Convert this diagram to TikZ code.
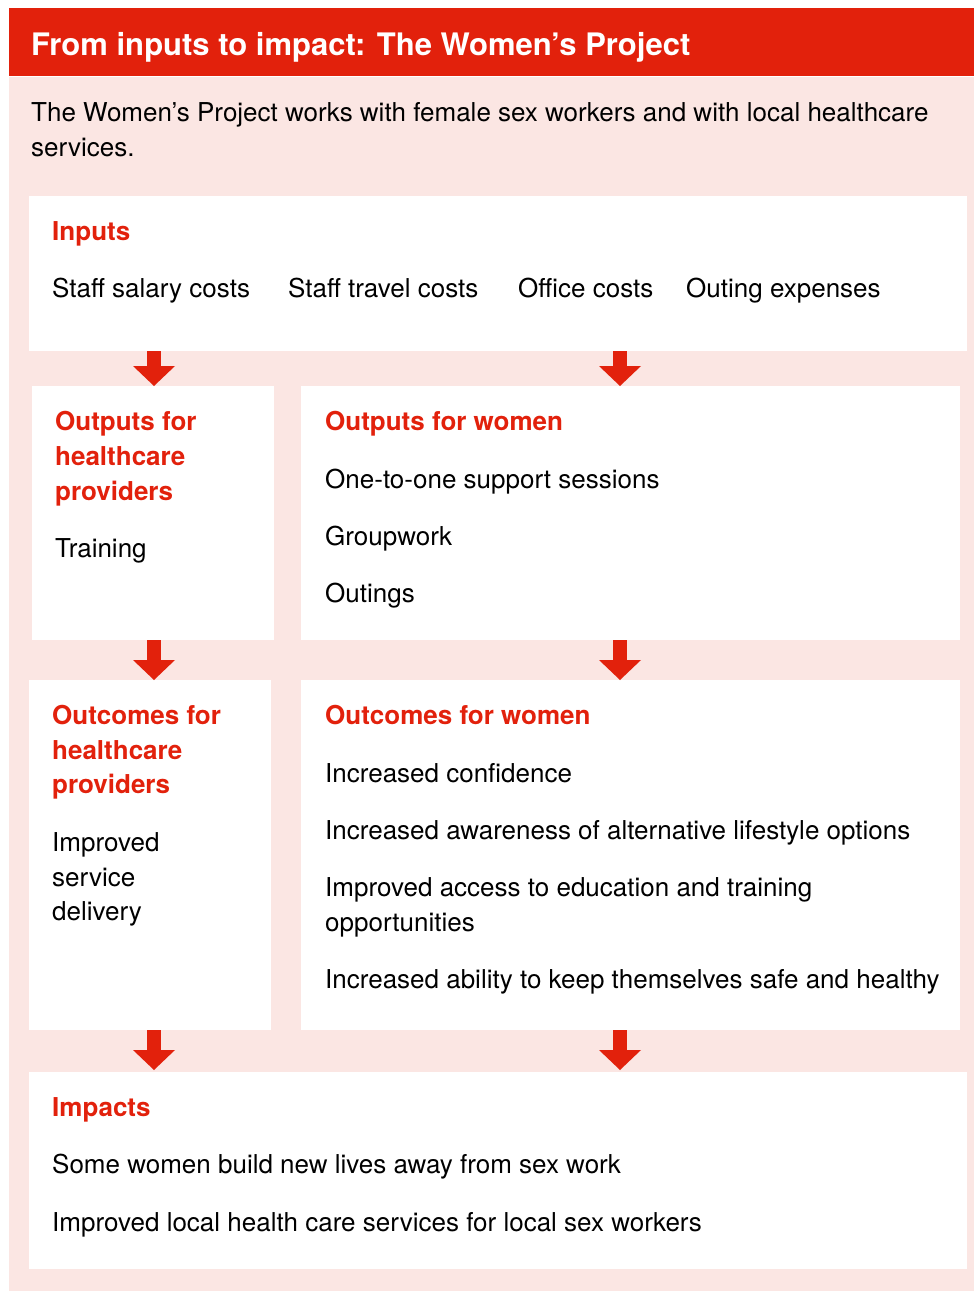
\documentclass[tikz,border=0pt]{standalone}
\usepackage{fontspec}
\setmainfont{TeX Gyre Heros}
\usetikzlibrary{arrows.meta}
\definecolor{tred}{RGB}{226,33,12}
\definecolor{tpink}{RGB}{251,230,227}
\tikzset{
  box/.style={fill=white, draw=none, inner sep=0pt, outer sep=0pt, anchor=north west},
  body/.style={anchor=base west, inner sep=0pt, font=\fontsize{26}{34}\selectfont, text=black},
  head/.style={anchor=base west, inner sep=0pt, font=\fontsize{26}{34}\selectfont\bfseries, text=tred},
  flow/.style={draw=tred, line width=14pt, -{Triangle[length=20pt,width=42pt,line width=0pt]}},
}
\begin{document}
\begin{tikzpicture}[x=1pt,y=-1pt]
\useasboundingbox (0,0) rectangle (974,1291);
% header and background
\fill[tred] (9,8) rectangle (974,75.5);
\fill[tpink] (9,77) rectangle (974,1291);
\node[anchor=base west, inner sep=0pt, font=\fontsize{31}{36}\selectfont\bfseries, text=white] (title) at (31,55) {From inputs to impact: The Women’s Project};
\node[body] (intro1) at (31,121) {The Women’s Project works with female sex workers and with local healthcare};
\node[body] (intro2) at (31,156) {services.};

% boxes
\node[box, minimum width=938, minimum height=155] (inputs) at (29,196) {};
\node[box, minimum width=242, minimum height=254] (ohc) at (32,386) {};
\node[box, minimum width=659, minimum height=254] (ow) at (301,386) {};
\node[box, minimum width=242, minimum height=350] (ochc) at (29,680) {};
\node[box, minimum width=659, minimum height=350] (ocw) at (301,680) {};
\node[box, minimum width=938, minimum height=197] (imp) at (29,1072) {};

% arrows
\coordinate (cl) at (154,0);
\coordinate (cr) at (620,0);
\draw[flow] (inputs.south -| cl) -- (ohc.north -| cl);
\draw[flow] (inputs.south -| cr) -- (ow.north -| cr);
\draw[flow] (ohc.south -| cl) -- (ochc.north -| cl);
\draw[flow] (ow.south -| cr) -- (ocw.north -| cr);
\draw[flow] (ochc.south -| cl) -- ([yshift=2pt]imp.north -| cl);
\draw[flow] (ocw.south -| cr) -- ([yshift=2pt]imp.north -| cr);

% inputs
\node[head] (hin) at (52,240) {Inputs};
\node[body] (in1) at (52,297) {Staff salary costs};
\node[body] (in2) at (288,297) {Staff travel costs};
\node[body] (in3) at (518,297) {Office costs};
\node[body] (in4) at (686,297) {Outing expenses};

% outputs healthcare
\node[head] (hohc1) at (55,430) {Outputs for};
\node[head] (hohc2) at (55,465) {healthcare};
\node[head] (hohc3) at (55,500) {providers};
\node[body] (ohc1) at (55,557) {Training};

% outputs women
\node[head] (how) at (325,430) {Outputs for women};
\node[body] (ow1) at (325,488) {One-to-one support sessions};
\node[body] (ow2) at (325,545) {Groupwork};
\node[body] (ow3) at (325,602) {Outings};

% outcomes healthcare
\node[head] (hochc1) at (52,724) {Outcomes for};
\node[head] (hochc2) at (52,759) {healthcare};
\node[head] (hochc3) at (52,793) {providers};
\node[body] (ochc1) at (52,851) {Improved};
\node[body] (ochc2) at (52,886) {service};
\node[body] (ochc3) at (52,920) {delivery};

% outcomes women
\node[head] (hocw) at (325,724) {Outcomes for women};
\node[body] (ocw1) at (325,782) {Increased confidence};
\node[body] (ocw2) at (325,839) {Increased awareness of alternative lifestyle options};
\node[body] (ocw3) at (325,896) {Improved access to education and training};
\node[body] (ocw4) at (325,931) {opportunities};
\node[body] (ocw5) at (325,988) {Increased ability to keep themselves safe and healthy};

% impacts
\node[head] (himp) at (52,1116) {Impacts};
\node[body] (imp1) at (52,1173) {Some women build new lives away from sex work};
\node[body] (imp2) at (52,1231) {Improved local health care services for local sex workers};
\end{tikzpicture}
\end{document}
